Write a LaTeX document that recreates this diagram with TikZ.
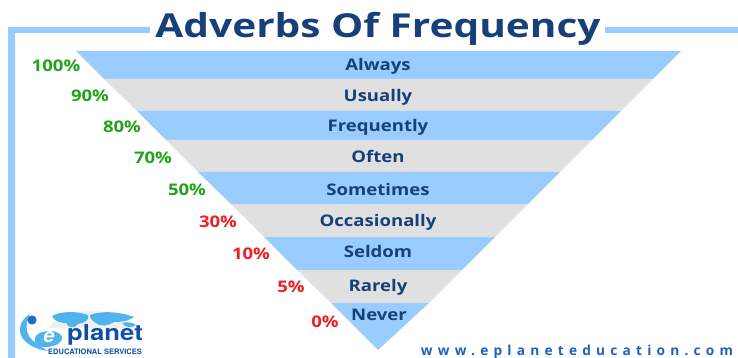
\documentclass[tikz,border=0pt]{standalone}
\usepackage{fontspec}
\setmainfont{Open Sans}
\newfontfamily\heros{TeX Gyre Heros}
\definecolor{bandblue}{HTML}{99CCFF}
\definecolor{bandgrey}{HTML}{E0E0E0}
\definecolor{navy}{HTML}{17407B}
\definecolor{pctgreen}{HTML}{22A31A}
\definecolor{pctred}{HTML}{EE2026}
\definecolor{urlblue}{HTML}{1F62BE}
\definecolor{logoblue}{HTML}{1B6FC2}
\definecolor{logosky}{HTML}{4FB4EE}
\definecolor{logodark}{HTML}{0F4FA8}
\tikzset{
  bluebandst/.style={fill=bandblue,draw=none},
  greybandst/.style={fill=bandgrey,draw=none},
  framest/.style={fill=bandblue,draw=none},
  wordst/.style={text=navy,font=\fontsize{16}{18}\selectfont\bfseries\addfontfeature{FakeStretch=1.16},inner sep=0pt,anchor=base},
  pctgr/.style={text=pctgreen,font=\fontsize{16}{18}\selectfont\bfseries\addfontfeature{FakeStretch=1.16},inner sep=0pt,anchor=base},
  pctrd/.style={text=pctred,font=\fontsize{16}{18}\selectfont\bfseries\addfontfeature{FakeStretch=1.16},inner sep=0pt,anchor=base},
  mapst/.style={fill=logosky,draw=none},
}
\begin{document}
\begin{tikzpicture}[x=1pt,y=-1pt]
\useasboundingbox (0,0) rectangle (738,358);
\fill[white] (0,0) rectangle (738,358);
% frame
\fill[framest] (8,358) -- (8,27) -- (150,27) -- (150,33) -- (15,33) -- (15,358) -- cycle;
\fill[framest] (605,27) rectangle (738,33);
% title
\node[text=navy,font=\fontsize{33}{36}\selectfont\bfseries\addfontfeature{FakeStretch=1.23},inner sep=0pt,anchor=base] (title) at (378,38) {Adverbs Of Frequency};
% bands
\fill[bluebandst] (76,51) -- (681,51) -- (653,79) -- (104,79) -- cycle;
\fill[greybandst] (104,79) -- (653,79) -- (621,111) -- (137,111) -- cycle;
\fill[bluebandst] (137,111) -- (621,111) -- (592,140) -- (166,140) -- cycle;
\fill[greybandst] (166,140) -- (592,140) -- (560,172) -- (198,172) -- cycle;
\fill[bluebandst] (198,172) -- (560,172) -- (528,204) -- (231,204) -- cycle;
\fill[greybandst] (231,204) -- (528,204) -- (495,237) -- (264,237) -- cycle;
\fill[bluebandst] (264,237) -- (495,237) -- (462,270) -- (297,270) -- cycle;
\fill[greybandst] (297,270) -- (462,270) -- (429,303) -- (331,303) -- cycle;
\fill[bluebandst] (331,303) -- (429,303) -- (378,350) -- cycle;
% words
\node[wordst] (w1) at (378,71) {Always};
\node[wordst] (w2) at (378,102) {Usually};
\node[wordst] (w3) at (378,132) {Frequently};
\node[wordst] (w4) at (378,163) {Often};
\node[wordst] (w5) at (378,195) {Sometimes};
\node[wordst] (w6) at (378,226) {Occasionally};
\node[wordst] (w7) at (378,257) {Seldom};
\node[wordst] (w8) at (378,291) {Rarely};
\node[wordst] (w9) at (379,320) {Never};
% percentages
\node[pctgr] (p1) at (56,72) {100\%};
\node[pctgr] (p2) at (90,102) {90\%};
\node[pctgr] (p3) at (122,133) {80\%};
\node[pctgr] (p4) at (153,164) {70\%};
\node[pctgr] (p5) at (187,195) {50\%};
\node[pctrd] (p6) at (218,227) {30\%};
\node[pctrd] (p7) at (251,259) {10\%};
\node[pctrd] (p8) at (291,292) {5\%};
\node[pctrd] (p9) at (325,327) {0\%};
% url
\node[text=urlblue,font=\fontsize{13.7}{15}\selectfont\bfseries\addfontfeature{LetterSpace=38},inner sep=0pt,anchor=base] (url) at (577,355) {www.eplaneteducation.com};
% logo: map
\fill[bandgrey!50] (92,336) ellipse[x radius=46,y radius=25];
\fill[white] (40,328) rectangle (150,358);
\fill[mapst] (52,316) .. controls (60,311) and (78,311) .. (88,315) .. controls (90,320) and (84,323) .. (78,324) .. controls (75,329) and (68,328) .. (66,323) .. controls (60,323) and (54,321) .. (52,316) -- cycle;
\fill[mapst] (90,315) .. controls (100,311) and (118,311) .. (134,317) .. controls (128,321) and (122,322) .. (114,322) .. controls (108,326) and (100,327) .. (96,323) .. controls (92,321) and (90,318) .. (90,315) -- cycle;
\fill[mapst] (122,323) .. controls (126,322) and (132,322) .. (136,325) .. controls (132,328) and (125,328) .. (122,323) -- cycle;
% logo: figure
\fill[logosky] (30,314) .. controls (19,320) and (16,334) .. (26,342) .. controls (32,347) and (40,350) .. (48,351) .. controls (38,345) and (29,340) .. (27,331) .. controls (26,325) and (27,319) .. (30,314) -- cycle;
\fill[logoblue] (32,320) circle[radius=4.6];
\fill[logosky] (35,342) .. controls (33,334) and (42,331) .. (50,331) .. controls (58,331) and (63,335) .. (62,339) .. controls (60,345) and (50,348) .. (42,347) .. controls (38,346) and (36,344) .. (35,342) -- cycle;
\node[text=white,font=\heros\fontsize{20}{20}\selectfont\bfseries\itshape,inner sep=0pt] (loge) at (49,337) {e};
\node[text=logodark,font=\heros\fontsize{22}{22}\selectfont\bfseries\addfontfeature{FakeStretch=1.17},inner sep=0pt,anchor=center] (logp) at (105,335) {planet};
\node[text=logodark,font=\heros\fontsize{7.5}{8}\selectfont\bfseries,inner sep=0pt,anchor=center] (logs) at (95,352) {EDUCATIONAL SERVICES};
\end{tikzpicture}
\end{document}
